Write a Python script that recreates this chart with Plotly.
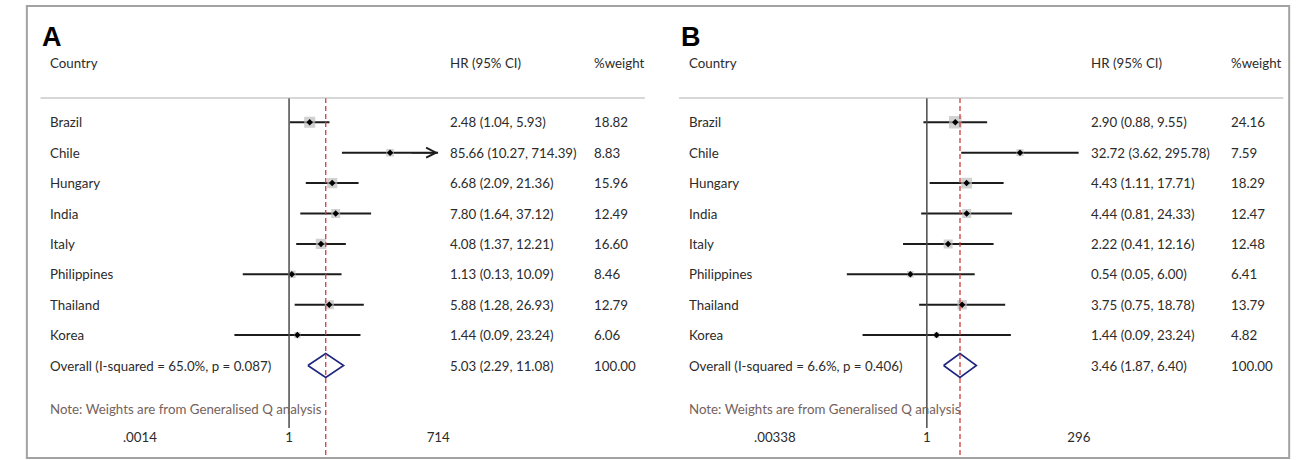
import math
import plotly.graph_objects as go

W, H = 1308, 460

# ---- data -------------------------------------------------------------
countries = ["Brazil", "Chile", "Hungary", "India", "Italy",
             "Philippines", "Thailand", "Korea"]

a_hr = [2.48, 85.66, 6.68, 7.80, 4.08, 1.13, 5.88, 1.44]
a_lo = [1.04, 10.27, 2.09, 1.64, 1.37, 0.13, 1.28, 0.09]
a_hi = [5.93, 714.39, 21.36, 37.12, 12.21, 10.09, 26.93, 23.24]
a_wt = [18.82, 8.83, 15.96, 12.49, 16.60, 8.46, 12.79, 6.06]
a_overall = [5.03, 2.29, 11.08]
a_het = ["65.0%", "0.087"]
a_ticks = [0.0014, 1, 714]
a_ticktext = [".0014", "1", "714"]

b_hr = [2.90, 32.72, 4.43, 4.44, 2.22, 0.54, 3.75, 1.44]
b_lo = [0.88, 3.62, 1.11, 0.81, 0.41, 0.05, 0.75, 0.09]
b_hi = [9.55, 295.78, 17.71, 24.33, 12.16, 6.00, 18.78, 23.24]
b_wt = [24.16, 7.59, 18.29, 12.47, 12.48, 6.41, 13.79, 4.82]
b_overall = [3.46, 1.87, 6.40]
b_het = ["6.6%", "0.406"]
b_ticks = [0.00338, 1, 296]
b_ticktext = [".00338", "1", "296"]

note_text = "Note: Weights are from Generalised Q analysis"

# ---- styling ----------------------------------------------------------
FONT = "Lato"
FS = 13.3
TXT = "#2b2b2b"
ROW0, ROWSTEP = 122.3, 30.4          # pixel centre of first row, row pitch
PLOT_TOP, PLOT_BOT = 98, 428         # vertical extent of the plotting area


def px(x):
    return x / W


def py(y):
    return 1 - y / H


y_top_val = (PLOT_TOP - ROW0) / ROWSTEP
y_bot_val = (PLOT_BOT - ROW0) / ROWSTEP

fig = go.Figure()
annotations = []
shapes = []

panels = [
    dict(letter="A", off=0, xax="x", yax="y", axis_px=(122, 428),
         hr=a_hr, lo=a_lo, hi=a_hi, wt=a_wt, overall=a_overall, het=a_het,
         ticks=a_ticks, ticktext=a_ticktext,
         col_hr=438, col_wt=586, sep=(20, 640)),
    dict(letter="B", off=655, xax="x2", yax="y2", axis_px=(773.4, 1085.2),
         hr=b_hr, lo=b_lo, hi=b_hi, wt=b_wt, overall=b_overall, het=b_het,
         ticks=b_ticks, ticktext=b_ticktext,
         col_hr=1096, col_wt=1239, sep=(675, 1295)),
]

for p in panels:
    xmin, xmax = p["ticks"][0], p["ticks"][-1]
    n = len(countries)
    rows = list(range(n))
    ov_row = n

    # confidence-interval whiskers (clipped to the axis range)
    cx, cy = [], []
    for i in rows:
        cx += [max(p["lo"][i], xmin), min(p["hi"][i], xmax), None]
        cy += [i, i, None]
    fig.add_trace(go.Scatter(x=cx, y=cy, mode="lines", xaxis=p["xax"], yaxis=p["yax"],
                             line=dict(color="#1c1c1c", width=2), hoverinfo="skip",
                             showlegend=False))

    # weight boxes
    fig.add_trace(go.Scatter(
        x=p["hr"], y=rows, mode="markers", xaxis=p["xax"], yaxis=p["yax"],
        marker=dict(symbol="square", color="#bdbdbd",
                    size=[2.55 * math.sqrt(w) for w in p["wt"]], line=dict(width=0)),
        showlegend=False, hoverinfo="skip"))

    # point estimates
    fig.add_trace(go.Scatter(
        x=p["hr"], y=rows, mode="markers", xaxis=p["xax"], yaxis=p["yax"],
        marker=dict(symbol="diamond", color="#000000", size=5),
        showlegend=False, hoverinfo="skip"))

    # pooled estimate diamond
    est, olo, ohi = p["overall"]
    h = 12 / ROWSTEP
    fig.add_trace(go.Scatter(
        x=[olo, est, ohi, est, olo], y=[ov_row, ov_row - h, ov_row, ov_row + h, ov_row],
        mode="lines", xaxis=p["xax"], yaxis=p["yax"],
        line=dict(color="#1f2680", width=1.6), showlegend=False, hoverinfo="skip"))

    # arrows for intervals that run past the axis
    for i in rows:
        if p["hi"][i] > xmax:
            annotations.append(dict(
                x=math.log10(xmax), y=i, xref=p["xax"], yref=p["yax"],
                ax=-28, ay=0, axref="pixel", ayref="pixel", text="",
                showarrow=True, arrowhead=5, arrowsize=1.3, arrowwidth=1.5,
                arrowcolor="#1c1c1c", standoff=0))

    # null line and pooled-estimate line
    shapes.append(dict(type="line", xref=p["xax"], yref=p["yax"] + " domain",
                       x0=1, x1=1, y0=0, y1=1,
                       line=dict(color="#4a4a4a", width=1.5)))
    shapes.append(dict(type="line", xref=p["xax"], yref=p["yax"] + " domain",
                       x0=est, x1=est, y0=-27 / (PLOT_BOT - PLOT_TOP), y1=1,
                       line=dict(color="#d23a3a", width=1.3, dash="5px,3px")))

    # header rule
    shapes.append(dict(type="line", xref="paper", yref="paper",
                       x0=px(p["sep"][0]), x1=px(p["sep"][1]),
                       y0=py(PLOT_TOP), y1=py(PLOT_TOP),
                       line=dict(color="#b0b0b0", width=1.2)))

    annotations.append(dict(x=px(20 + p["off"]), y=py(37), xref="paper", yref="paper",
                            text="<b>%s</b>" % p["letter"], showarrow=False,
                            xanchor="left", yanchor="middle",
                            font=dict(family="Liberation Sans", size=27, color="#000000")))
    for txt, xp in [("Country", 28 + p["off"]), ("HR (95% CI)", p["col_hr"]),
                    ("%weight", p["col_wt"])]:
        annotations.append(dict(x=px(xp), y=py(63), xref="paper", yref="paper",
                                text=txt, showarrow=False, xanchor="left",
                                yanchor="middle",
                                font=dict(family=FONT, size=FS, color=TXT)))

    labels = countries + ["Overall (I-squared = %s, p = %s)" % tuple(p["het"])]
    hrs = p["hr"] + [est]
    los = p["lo"] + [olo]
    his = p["hi"] + [ohi]
    wts = p["wt"] + [100.0]
    for i, lab in enumerate(labels):
        for txt, xp in [(lab, 28 + p["off"]),
                        ("%.2f (%.2f, %.2f)" % (hrs[i], los[i], his[i]), p["col_hr"]),
                        ("%.2f" % wts[i], p["col_wt"])]:
            annotations.append(dict(x=px(xp), y=i, xref="paper", yref=p["yax"],
                                    text=txt, showarrow=False, xanchor="left",
                                    yanchor="middle",
                                    font=dict(family=FONT, size=FS, color=TXT)))

    annotations.append(dict(x=px(28 + p["off"]), y=py(409), xref="paper", yref="paper",
                            text=note_text, showarrow=False, xanchor="left",
                            yanchor="middle",
                            font=dict(family=FONT, size=FS, color="#74625c")))

# outer frame
shapes.append(dict(type="rect", xref="paper", yref="paper",
                   x0=px(6), x1=px(1301), y0=py(458), y1=py(6),
                   line=dict(color="#a3a3a3", width=2), layer="below"))


def xaxis_cfg(p):
    lo_px, hi_px = p["axis_px"]
    return dict(type="log", domain=[px(lo_px), px(hi_px)],
                range=[math.log10(p["ticks"][0]), math.log10(p["ticks"][-1])],
                tickvals=p["ticks"], ticktext=p["ticktext"], ticks="",
                showline=False, showgrid=False, zeroline=False,
                tickfont=dict(family=FONT, size=FS, color=TXT),
                anchor=p["yax"], fixedrange=True)


def yaxis_cfg(anchor):
    return dict(domain=[py(PLOT_BOT), py(PLOT_TOP)], range=[y_bot_val, y_top_val],
                visible=False, anchor=anchor, fixedrange=True)


fig.update_layout(
    width=W, height=H, margin=dict(l=0, r=0, t=0, b=0),
    paper_bgcolor="#ffffff", plot_bgcolor="rgba(0,0,0,0)",
    xaxis=xaxis_cfg(panels[0]), xaxis2=xaxis_cfg(panels[1]),
    yaxis=yaxis_cfg("x"), yaxis2=yaxis_cfg("x2"),
    annotations=annotations, shapes=shapes, showlegend=False,
)

fig.write_html("out.html", config={"displayModeBar": False})
